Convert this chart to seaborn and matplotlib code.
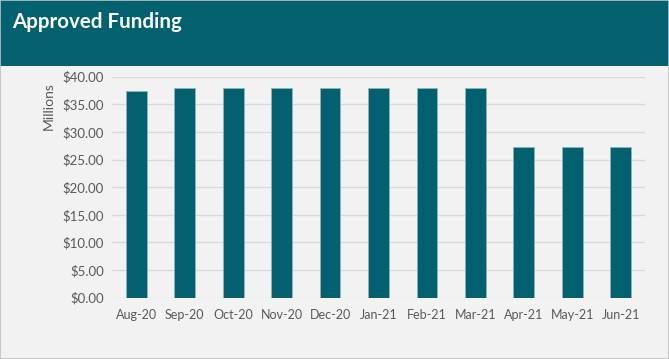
import matplotlib
matplotlib.use("Agg")
import matplotlib.pyplot as plt
from matplotlib.patches import Rectangle
import seaborn as sns
import pandas as pd

months = ["Aug-20", "Sep-20", "Oct-20", "Nov-20", "Dec-20", "Jan-21",
          "Feb-21", "Mar-21", "Apr-21", "May-21", "Jun-21"]
funding_millions = [37.4, 38.0, 38.0, 38.0, 38.0, 38.0, 38.0, 38.0, 27.2, 27.2, 27.2]
y_ticks = [0, 5, 10, 15, 20, 25, 30, 35, 40]

TEAL = "#03606F"
BG = "#F2F2F2"
TEXT = "#595959"

sns.set_theme(style="whitegrid")
plt.rcParams["font.family"] = ["Lato", "DejaVu Sans"]

df = pd.DataFrame({"month": months, "funding": funding_millions})

fig = plt.figure(figsize=(6.69, 3.59), dpi=100)
fig.patch.set_facecolor(BG)

# header band with title
fig.patches.append(Rectangle((0, 1 - 66 / 359), 1, 66 / 359, transform=fig.transFigure,
                             facecolor=TEAL, edgecolor="none", zorder=0))
fig.patches.append(Rectangle((0, 0), 1, 1, transform=fig.transFigure,
                             facecolor="none", edgecolor="#BFBFBF", linewidth=1.2, zorder=5))
fig.text(12 / 669, 1 - 22 / 359, "Approved Funding", color="white", fontsize=14.8,
         fontweight="bold", va="center", ha="left")

ax = fig.add_axes([112 / 669, 1 - 297.7 / 359, (645 - 112) / 669, (297.7 - 76.7) / 359])
ax.set_facecolor(BG)
sns.barplot(data=df, x="month", y="funding", color=TEAL, width=0.43,
            edgecolor="#8FB4BA", linewidth=0.6, saturation=1, ax=ax)

ax.set_ylim(0, 40)
ax.set_yticks(y_ticks)
ax.set_yticklabels([f"${v:.2f}" for v in y_ticks])
ax.set_xlim(-0.5, len(months) - 0.5)
ax.set_xlabel("")
ax.set_ylabel("Millions", color=TEXT, fontsize=10, loc="top")
ax.yaxis.set_label_coords(-0.108, 0.975)
ax.tick_params(axis="y", colors=TEXT, labelsize=9.5, length=0, pad=6)
ax.tick_params(axis="x", colors=TEXT, labelsize=9, length=0, pad=8)
ax.grid(axis="y", color="#D9D9D9", linewidth=0.9)
ax.grid(axis="x", visible=False)
ax.set_axisbelow(True)
for s in ax.spines.values():
    s.set_visible(False)

fig.savefig("out.png", dpi=100, facecolor=BG)
